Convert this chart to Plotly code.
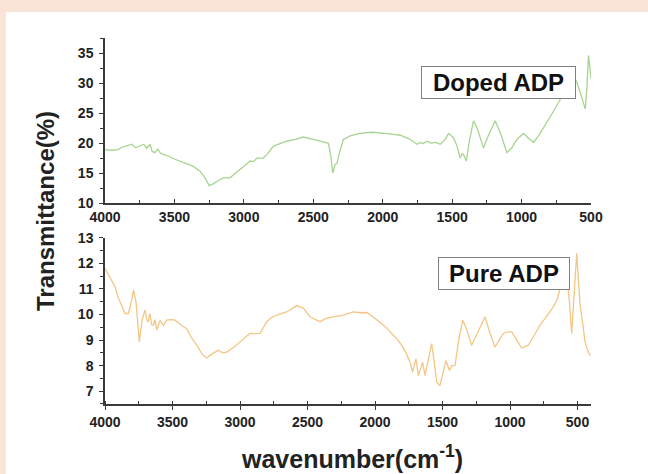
import plotly.graph_objects as go

# Doped ADP (top panel)
doped_wn = [4000, 3950, 3904, 3880, 3850, 3808, 3780, 3748, 3720, 3700, 3676, 3660, 3640, 3620, 3600,
            3580, 3540, 3496, 3430, 3364, 3316, 3280, 3249, 3220, 3196, 3148, 3100, 3060, 3028, 2990,
            2956, 2930, 2907, 2860, 2830, 2787, 2740, 2691, 2630, 2571, 2499, 2427, 2391, 2375, 2360,
            2344, 2330, 2310, 2283, 2235, 2163, 2080, 1995, 1930, 1874, 1810, 1754, 1730, 1710, 1682,
            1650, 1620, 1586, 1550, 1526, 1490, 1465, 1442, 1430, 1418, 1398, 1375, 1346, 1320, 1274,
            1240, 1190, 1150, 1106, 1070, 1034, 986, 950, 913, 870, 817, 770, 721, 670, 625, 600, 560,
            541, 530, 518, 510, 500]
doped_t = [18.9, 18.8, 18.9, 19.3, 19.5, 19.8, 19.2, 19.5, 19.8, 19.1, 19.8, 18.6, 18.4, 19.0, 18.3,
           18.1, 17.8, 17.3, 16.7, 16.1, 15.3, 14.2, 12.9, 13.2, 13.6, 14.2, 14.2, 14.9, 15.6, 16.3,
           17.0, 16.9, 17.5, 17.5, 18.2, 19.5, 19.9, 20.3, 20.6, 21.0, 20.6, 20.1, 19.95, 18.0, 15.0,
           16.4, 16.6, 18.5, 20.6, 21.2, 21.6, 21.8, 21.7, 21.5, 21.3, 20.7, 19.8, 20.1, 19.9, 20.3,
           20.0, 20.1, 19.8, 20.6, 21.6, 20.9, 19.5, 17.5, 18.2, 18.1, 17.0, 20.5, 23.7, 22.5, 19.2,
           21.2, 23.7, 21.5, 18.4, 19.2, 20.6, 21.6, 20.8, 20.1, 21.5, 23.4, 25.3, 27.3, 29.3, 31.2, 30.0, 27.0,
           25.7, 29.0, 34.6, 33.0, 30.7]

# Pure ADP (bottom panel)
pure_wn = [4000, 3963, 3940, 3926, 3905, 3889, 3852, 3827, 3800, 3790, 3770, 3746, 3725, 3704, 3690,
           3679, 3667, 3655, 3642, 3630, 3617, 3593, 3568, 3543, 3510, 3481, 3440, 3395, 3360, 3321,
           3280, 3247, 3210, 3161, 3130, 3099, 3050, 3000, 2960, 2926, 2890, 2852, 2802, 2760, 2728,
           2654, 2610, 2580, 2531, 2481, 2440, 2407, 2370, 2333, 2285, 2235, 2161, 2110, 2060, 2013,
           1975, 1938, 1900, 1864, 1830, 1803, 1770, 1741, 1721, 1710, 1696, 1679, 1662, 1647, 1630,
           1605, 1580, 1560, 1543, 1519, 1495, 1474, 1449, 1430, 1407, 1380, 1350, 1320, 1284, 1240,
           1185, 1150, 1111, 1080, 1049, 1020, 987, 950, 914, 864, 820, 778, 720, 679, 650, 630, 600,
           575, 560, 543, 525, 506, 495, 481, 460, 444, 425, 407]
pure_t = [11.81, 11.42, 11.2, 11.09, 10.7, 10.5, 10.04, 10.04, 10.6, 10.96, 10.5, 8.93, 9.8, 10.17, 9.8,
          9.7, 10.05, 9.6, 9.58, 9.8, 9.39, 9.77, 9.58, 9.78, 9.80, 9.78, 9.6, 9.45, 9.1, 8.8,
          8.45, 8.3, 8.45, 8.6, 8.5, 8.53, 8.7, 8.93, 9.1, 9.26, 9.25, 9.26, 9.72, 9.9, 9.98,
          10.1, 10.25, 10.35, 10.25, 9.91, 9.8, 9.72, 9.83, 9.89, 9.93, 9.98, 10.1, 10.07, 10.08, 9.91,
          9.75, 9.58, 9.4, 9.19, 9.0, 8.8, 8.5, 8.14, 7.75, 8.0, 8.27, 7.61, 7.9, 8.14, 7.61,
          8.3, 8.86, 8.1, 7.35, 7.22, 7.7, 8.2, 7.81, 8.0, 8.01, 9.0, 9.78, 9.4, 8.8, 9.3,
          9.91, 9.3, 8.73, 9.0, 9.26, 9.32, 9.32, 9.0, 8.69, 8.8, 9.2, 9.58, 10.0, 10.3, 10.6, 11.03, 11.6,
          11.3, 10.5, 9.26, 10.8, 12.4, 11.5, 10.37, 9.6, 8.93, 8.6, 8.4]

x_ticks = [4000, 3500, 3000, 2500, 2000, 1500, 1000, 500]
label_top = "Doped ADP"
label_bottom = "Pure ADP"
y_title = "Transmittance(%)"
x_title = "wavenumber(cm<sup>-1</sup>)"

GREEN = "#a8d491"
ORANGE = "#f3c684"
AX = "#3a3a3a"
FONT = "Liberation Sans"

fig = go.Figure()
fig.add_trace(go.Scatter(x=doped_wn, y=doped_t, mode="lines", line=dict(color=GREEN, width=1.3),
                         xaxis="x", yaxis="y", showlegend=False))
fig.add_trace(go.Scatter(x=pure_wn, y=pure_t, mode="lines", line=dict(color=ORANGE, width=1.3),
                         xaxis="x2", yaxis="y2", showlegend=False))

tickfont = dict(family=FONT, size=14, color="#222222", weight="bold")
common_x = dict(tickvals=x_ticks, showline=True, linecolor=AX, linewidth=1.5, ticklen=4,
                tickcolor=AX, tickwidth=1.2, showgrid=False, zeroline=False, tickfont=tickfont,
                minor=dict(dtick=250, ticklen=3, tickcolor=AX, ticks="inside"))
common_y = dict(showline=True, linecolor=AX, linewidth=1.5, ticks="outside", ticklen=4,
                tickcolor=AX, tickwidth=1.2, showgrid=False, zeroline=False, tickfont=tickfont,
                ticklabelstandoff=3)

fig.update_layout(
    width=648, height=474,
    margin=dict(l=105, r=57, t=38, b=70),
    paper_bgcolor="#fae4d8",
    plot_bgcolor="white",
    xaxis=dict(domain=[0, 1], range=[4000, 500], anchor="y", ticks="inside", **common_x),
    yaxis=dict(domain=[0.549, 1], range=[10, 37.5], dtick=5, anchor="x",
               minor=dict(dtick=2.5, ticklen=3, tickcolor=AX, ticks="outside"), **common_y),
    xaxis2=dict(domain=[0, 1], range=[4000, 400], anchor="y2", ticks="outside", **common_x),
    yaxis2=dict(domain=[0, 0.454], range=[6.5, 13], dtick=1, anchor="x2",
                minor=dict(dtick=0.5, ticklen=3, tickcolor=AX, ticks="outside"), **common_y),
    shapes=[dict(type="rect", xref="paper", yref="paper", x0=-0.204, x1=1.12, y0=-0.2, y1=1.071,
                 fillcolor="white", line=dict(width=0), layer="below")],
    annotations=[
        dict(text=label_top, x=(498.5 - 105) / 486, y=(404 - 82.9) / 366, xref="paper", yref="paper",
             xanchor="center", yanchor="middle",
             showarrow=False, width=151, height=29,
             font=dict(family=FONT, size=24, color="#111111", weight="bold"),
             bgcolor="white", bordercolor="#808080", borderwidth=1, borderpad=1),
        dict(text=label_bottom, x=(504 - 105) / 486, y=(404 - 273.9) / 366, xref="paper", yref="paper",
             xanchor="center", yanchor="middle",
             showarrow=False, width=128, height=29,
             font=dict(family=FONT, size=24, color="#111111", weight="bold"),
             bgcolor="white", bordercolor="#808080", borderwidth=1, borderpad=1),
        dict(text=y_title, textangle=-90, x=(45 - 105) / 486, y=(404 - 211) / 366,
             xref="paper", yref="paper", showarrow=False, xanchor="center", yanchor="middle",
             font=dict(family=FONT, size=24, color="#222222", weight="bold")),
        dict(text=x_title, x=(352 - 105) / 486, y=(404 - 457) / 366, xref="paper", yref="paper",
             showarrow=False, xanchor="center", yanchor="middle",
             font=dict(family=FONT, size=25, color="#222222", weight="bold")),
    ],
)

fig.write_html("out.html")
